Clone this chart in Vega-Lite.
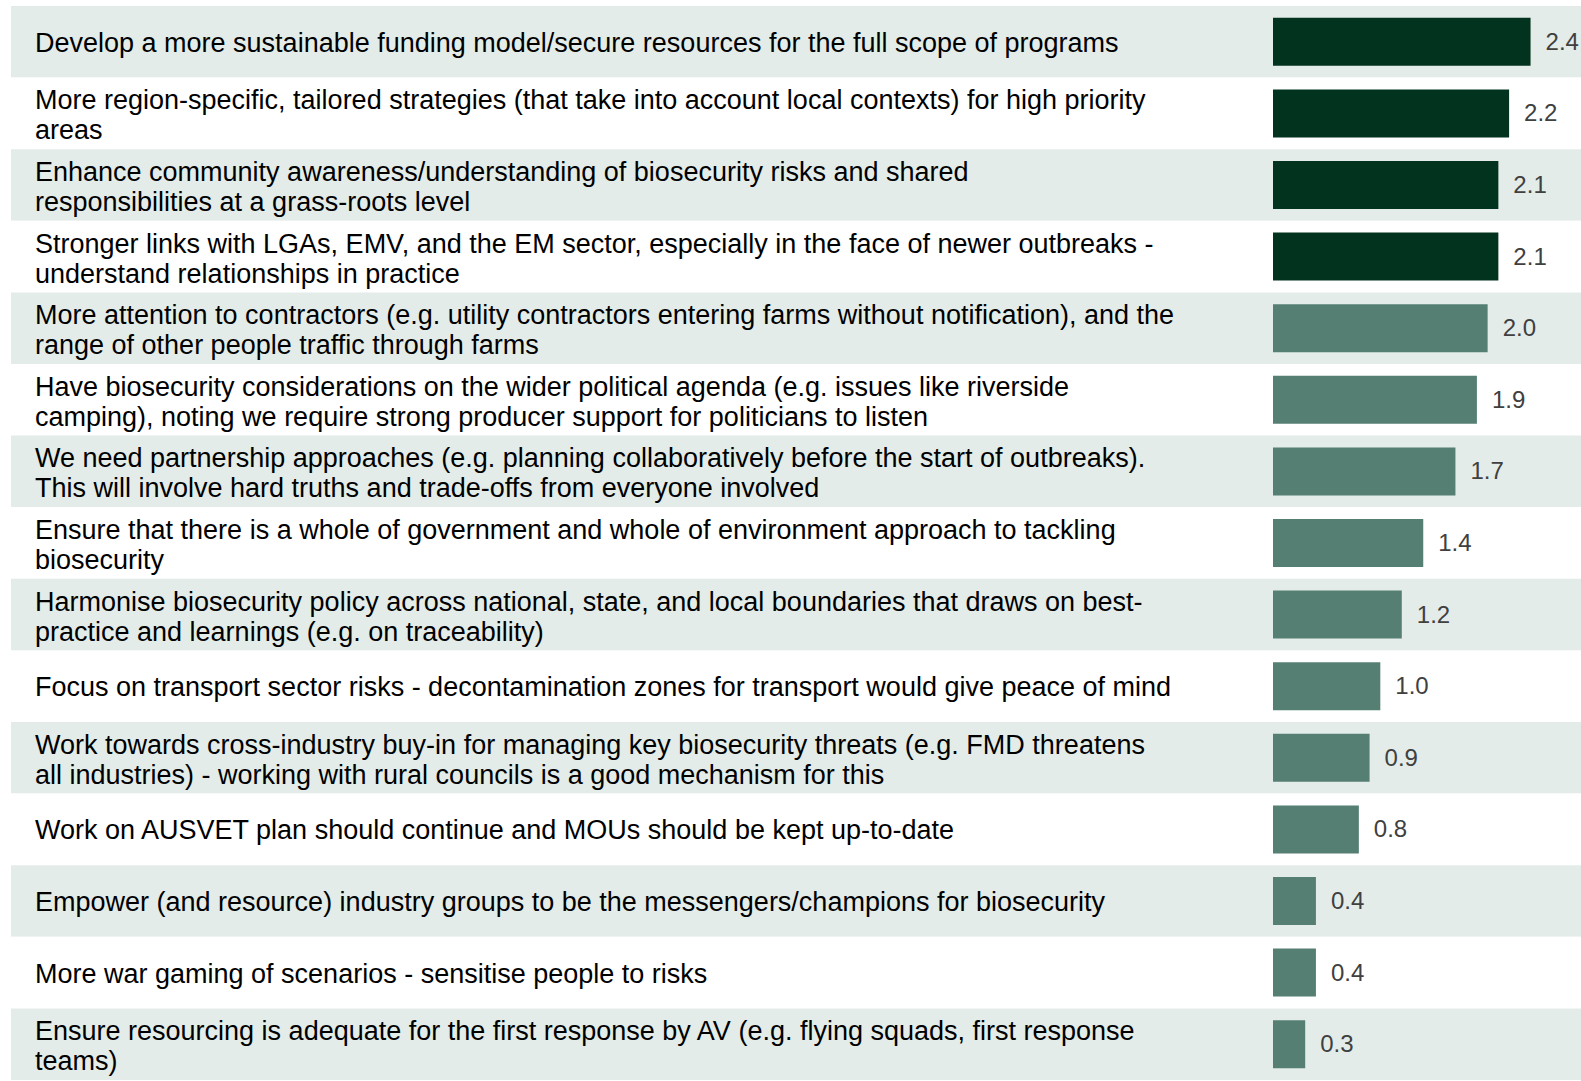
{
  "$schema": "https://vega.github.io/schema/vega-lite/v6.json",
  "padding": {"left": 11, "top": 6, "right": 0, "bottom": 0},
  "autosize": {"type": "pad"},
  "background": "#FFFFFF",
  "config": {"view": {"stroke": null}, "concat": {"spacing": 0}},
  "spacing": 0,
  "data": {
    "values": [
      {"rank": 1, "tier": "Top", "value": 2.4, "label": "Develop a more sustainable funding model/secure resources for the full scope of programs"},
      {"rank": 2, "tier": "Top", "value": 2.2, "label": "More region-specific, tailored strategies (that take into account local contexts) for high priority\nareas"},
      {"rank": 3, "tier": "Top", "value": 2.1, "label": "Enhance community awareness/understanding of biosecurity risks and shared\nresponsibilities at a grass-roots level"},
      {"rank": 4, "tier": "Top", "value": 2.1, "label": "Stronger links with LGAs, EMV, and the EM sector, especially in the face of newer outbreaks -\nunderstand relationships in practice"},
      {"rank": 5, "tier": "Other", "value": 2.0, "label": "More attention to contractors (e.g. utility contractors entering farms without notification), and the\nrange of other people traffic through farms"},
      {"rank": 6, "tier": "Other", "value": 1.9, "label": "Have biosecurity considerations on the wider political agenda (e.g. issues like riverside\ncamping), noting we require strong producer support for politicians to listen"},
      {"rank": 7, "tier": "Other", "value": 1.7, "label": "We need partnership approaches (e.g. planning collaboratively before the start of outbreaks).\nThis will involve hard truths and trade-offs from everyone involved"},
      {"rank": 8, "tier": "Other", "value": 1.4, "label": "Ensure that there is a whole of government and whole of environment approach to tackling\nbiosecurity"},
      {"rank": 9, "tier": "Other", "value": 1.2, "label": "Harmonise biosecurity policy across national, state, and local boundaries that draws on best-\npractice and learnings (e.g. on traceability)"},
      {"rank": 10, "tier": "Other", "value": 1.0, "label": "Focus on transport sector risks - decontamination zones for transport would give peace of mind"},
      {"rank": 11, "tier": "Other", "value": 0.9, "label": "Work  towards cross-industry buy-in for managing key biosecurity threats (e.g. FMD threatens\nall industries) - working with rural councils is a good  mechanism for this"},
      {"rank": 12, "tier": "Other", "value": 0.8, "label": "Work on AUSVET plan should continue and MOUs should be kept up-to-date"},
      {"rank": 13, "tier": "Other", "value": 0.4, "label": "Empower (and resource) industry groups to be the messengers/champions for biosecurity"},
      {"rank": 14, "tier": "Other", "value": 0.4, "label": "More war gaming of scenarios - sensitise people to risks"},
      {"rank": 15, "tier": "Other", "value": 0.3, "label": "Ensure resourcing is adequate for the first response by AV (e.g. flying squads, first response\nteams)"}
    ]
  },
  "hconcat": [
    {
      "width": 1262,
      "height": 1074,
      "layer": [
        {
          "mark": {"type": "rect", "strokeWidth": 0},
          "encoding": {
            "y": {"field": "rank", "type": "ordinal", "axis": null, "scale": {"paddingInner": 0, "paddingOuter": 0}},
            "color": {"condition": {"test": "datum.rank % 2 === 1", "value": "#E3ECE9"}, "value": "#FFFFFF"}
          }
        },
        {
          "transform": [{"filter": "indexof(datum.label, '\\n') < 0"}],
          "mark": {"type": "text", "align": "left", "baseline": "middle", "dx": 24, "dy": 2, "font": "Liberation Sans", "fontSize": 27, "lineHeight": 30, "lineBreak": "\n", "color": "#000000"},
          "encoding": {
            "y": {"field": "rank", "type": "ordinal", "axis": null},
            "x": {"datum": 0, "type": "quantitative", "scale": {"domain": [0, 1]}, "axis": null},
            "text": {"field": "label"}
          }
        },
        {
          "transform": [{"filter": "indexof(datum.label, '\\n') >= 0"}],
          "mark": {"type": "text", "align": "left", "baseline": "middle", "dx": 24, "dy": -12, "font": "Liberation Sans", "fontSize": 27, "lineHeight": 30, "lineBreak": "\n", "color": "#000000"},
          "encoding": {
            "y": {"field": "rank", "type": "ordinal", "axis": null},
            "x": {"datum": 0, "type": "quantitative", "scale": {"domain": [0, 1]}, "axis": null},
            "text": {"field": "label"}
          }
        }
      ]
    },
    {
      "width": 308,
      "height": 1074,
      "layer": [
        {
          "mark": {"type": "rect", "strokeWidth": 0},
          "encoding": {
            "y": {"field": "rank", "type": "ordinal", "axis": null, "scale": {"paddingInner": 0, "paddingOuter": 0}},
            "color": {"condition": {"test": "datum.rank % 2 === 1", "value": "#E3ECE9"}, "value": "#FFFFFF"}
          }
        },
        {
          "mark": {"type": "bar", "height": {"band": 0.67}},
          "encoding": {
            "y": {"field": "rank", "type": "ordinal", "axis": null},
            "x": {"field": "value", "type": "quantitative", "axis": null, "scale": {"domain": [0, 2.87], "nice": false, "zero": true}},
            "color": {"field": "tier", "type": "nominal", "legend": null, "scale": {"domain": ["Top", "Other"], "range": ["#02331E", "#557F73"]}}
          }
        },
        {
          "mark": {"type": "text", "align": "left", "baseline": "middle", "dx": 15, "dy": 1, "font": "Liberation Sans", "fontSize": 24, "color": "#404040"},
          "encoding": {
            "y": {"field": "rank", "type": "ordinal", "axis": null},
            "x": {"field": "value", "type": "quantitative", "axis": null},
            "text": {"field": "value", "type": "quantitative", "format": ".1f"}
          }
        }
      ]
    }
  ]
}
